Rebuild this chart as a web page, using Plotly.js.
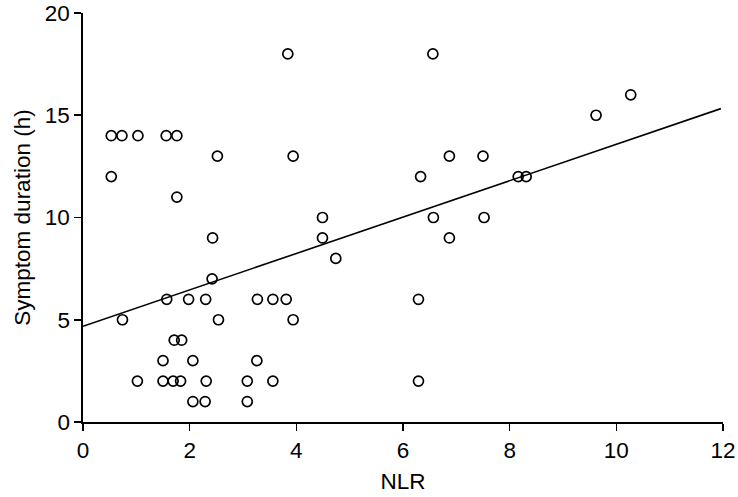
<!DOCTYPE html>
<html>
<head>
<meta charset="utf-8">
<script src="https://cdn.plot.ly/plotly-3.0.1.min.js"></script>
<style>html,body{margin:0;padding:0;background:#fff;}#chart{width:738px;height:497px;}</style>
</head>
<body>
<div id="chart"></div>
<script>
const nlr = [0.53,0.73,1.03,1.56,1.76,0.53,1.76,2.52,3.84,3.94,4.49,4.49,4.74,
  2.43,2.42,1.57,1.98,2.30,3.27,3.56,3.81,0.74,2.54,3.94,
  1.71,1.85,1.50,2.06,3.26,1.02,1.50,1.69,1.83,2.31,3.08,3.56,2.06,2.29,3.08,
  6.56,10.27,9.62,6.87,7.50,6.33,8.16,8.31,6.57,7.52,6.87,6.29,6.29];
const duration = [14,14,14,14,14,12,11,13,18,13,10,9,8,
  9,7,6,6,6,6,6,6,5,5,5,
  4,4,3,3,3,2,2,2,2,2,2,2,1,1,1,
  18,16,15,13,13,12,12,12,10,10,9,6,2];
const xTicks = [0,2,4,6,8,10,12];
const yTicks = [0,5,10,15,20];
// fitted regression line as drawn in the reference
const fitIntercept = 4.68;
const fitSlope = 0.89;
const fitRange = [0,11.96];
const fitY = fitRange.map(x=>fitIntercept+fitSlope*x);

const font = "Liberation Sans, Arial, sans-serif";
const fs = 22.5;
const data = [
  {x: fitRange, y: fitY, mode:'lines', type:'scatter', line:{color:'#000', width:1.6}, hoverinfo:'skip'},
  {x: nlr, y: duration, mode:'markers', type:'scatter', cliponaxis:false,
   marker:{symbol:'circle-open', size:10, color:'#000', line:{width:1.7, color:'#000'}}}
];
const layout = {
  width:738, height:497, showlegend:false,
  paper_bgcolor:'#fff', plot_bgcolor:'#fff',
  margin:{l:83, r:15, t:13, b:75},
  font:{family:font, color:'#000', size:fs},
  xaxis:{range:[0,12], tickmode:'array', tickvals:xTicks, ticktext:xTicks.map(String), showgrid:false, zeroline:false,
    showline:true, linecolor:'#000', linewidth:1.6, ticks:'outside', ticklen:7, tickwidth:1.6, tickcolor:'#000',
    tickfont:{size:fs, family:font}, title:{text:'NLR', font:{size:fs, family:font}, standoff:11}},
  yaxis:{range:[0,20], tickmode:'array', tickvals:yTicks, ticktext:yTicks.map(String), showgrid:false, zeroline:false,
    showline:true, linecolor:'#000', linewidth:1.6, ticks:'outside', ticklen:7, tickwidth:1.6, tickcolor:'#000',
    ticklabeloverflow:'allow', automargin:false,
    tickfont:{size:fs, family:font}, title:{text:'Symptom duration (h)', font:{size:fs, family:font}, standoff:8}}
};
Plotly.newPlot('chart', data, layout, {displayModeBar:false, staticPlot:true});
</script>
</body>
</html>
